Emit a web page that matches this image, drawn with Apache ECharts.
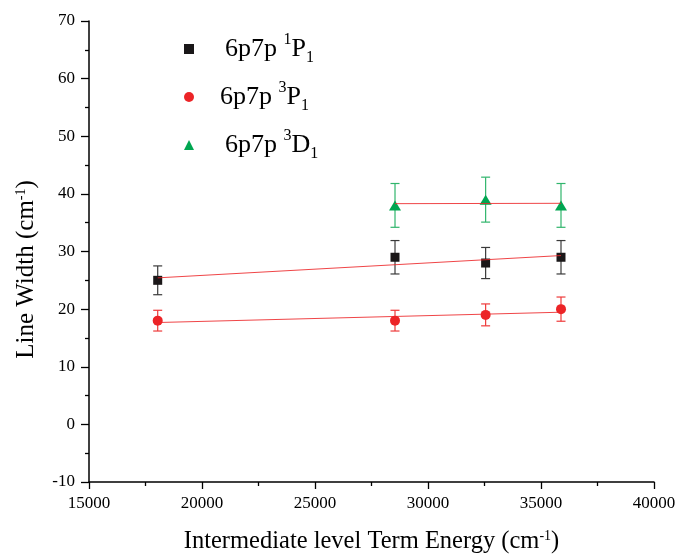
<!DOCTYPE html>
<html>
<head>
<meta charset="utf-8">
<script src="https://cdn.jsdelivr.net/npm/echarts@6/dist/echarts.min.js"></script>
<style>html,body{margin:0;padding:0;background:#fff}#c{width:676px;height:555px}</style>
</head>
<body>
<div id="c"></div>
<script>
// ---- data ----
const energy1P1 = [18040, 28540, 32550, 35885];
const width1P1 = [25, 29, 28, 29];
const err1P1 = [2.5, 2.9, 2.7, 2.9];

const energy3P1 = [18040, 28540, 32550, 35885];
const width3P1 = [18, 18, 19, 20];
const err3P1 = [1.8, 1.8, 1.9, 2.1];

const energy3D1 = [28540, 32550, 35885];
const width3D1 = [38, 39, 38];
const err3D1 = [3.8, 3.9, 3.8];

const xTicks = [15000, 20000, 25000, 30000, 35000, 40000];
const yTicks = [-10, 0, 10, 20, 30, 40, 50, 60, 70];

const seriesNames = ['6p7p 1P1', '6p7p 3P1', '6p7p 3D1'];

// ---- helpers ----
function pairs(xs, ys) { return xs.map((x, i) => [x, ys[i]]); }
function errData(xs, ys, es) { return xs.map((x, i) => [x, ys[i] - es[i], ys[i] + es[i]]); }
function linFit(xs, ys) {
  const n = xs.length;
  const mx = xs.reduce((a, b) => a + b, 0) / n;
  const my = ys.reduce((a, b) => a + b, 0) / n;
  let sxy = 0, sxx = 0;
  for (let i = 0; i < n; i++) { sxy += (xs[i] - mx) * (ys[i] - my); sxx += (xs[i] - mx) * (xs[i] - mx); }
  const b = sxy / sxx, a = my - b * mx;
  const x0 = Math.min(...xs), x1 = Math.max(...xs);
  return [[x0, a + b * x0], [x1, a + b * x1]];
}

const FONT = '"Liberation Serif", "DejaVu Serif", serif';
const C_BLACK = '#1a1718', C_RED = '#ec2427', C_GREEN = '#00a651';

function errSeries(name, data, color) {
  return {
    type: 'custom', name: name + ' err', data: data, z: 3, silent: true,
    encode: { x: 0, y: [1, 2] },
    renderItem: function (params, api) {
      const x = api.value(0);
      const lo = api.coord([x, api.value(1)]);
      const hi = api.coord([x, api.value(2)]);
      const w = 4.5;
      const st = { stroke: color, lineWidth: 1.2 };
      return {
        type: 'group',
        children: [
          { type: 'line', shape: { x1: lo[0], y1: lo[1], x2: hi[0], y2: hi[1] }, style: st },
          { type: 'line', shape: { x1: lo[0] - w, y1: lo[1], x2: lo[0] + w, y2: lo[1] }, style: st },
          { type: 'line', shape: { x1: hi[0] - w, y1: hi[1], x2: hi[0] + w, y2: hi[1] }, style: st }
        ]
      };
    }
  };
}
function fitSeries(name, xs, ys) {
  return {
    type: 'line', name: name + ' fit', data: linFit(xs, ys), showSymbol: false, silent: true,
    lineStyle: { color: C_RED, width: 1, opacity: 0.85 }, z: 5
  };
}

const richText = {
  main: { fontFamily: FONT, fontSize: 26, color: '#000', lineHeight: 34 },
  sup: { fontFamily: FONT, fontSize: 16, color: '#000', lineHeight: 16, verticalAlign: 'top' },
  sub: { fontFamily: FONT, fontSize: 16, color: '#000', lineHeight: 16, verticalAlign: 'bottom' }
};
function legendLabel(name) {
  const parts = name.split(' ');
  const t = parts[1];
  return '{main|' + parts[0] + ' }{sup|' + t[0] + '}{main|' + t[1] + '}{sub|' + t[2] + '}';
}

const chart = echarts.init(document.getElementById('c'), null, { renderer: 'canvas' });
chart.setOption({
  backgroundColor: '#fff',
  animation: false,
  grid: { left: 89, right: 22, top: 21, bottom: 73, containLabel: false, outerBoundsMode: 'none' },
  legend: {
    orient: 'vertical', left: 184, top: 32, padding: 0, itemWidth: 10, itemHeight: 10, itemGap: 14,
    formatter: legendLabel,
    textStyle: { rich: richText, padding: [0, 0, 0, 26] },
    data: [
      { name: seriesNames[0], icon: 'rect', textStyle: { padding: [0, 0, 0, 26] } },
      { name: seriesNames[1], icon: 'circle', textStyle: { padding: [0, 0, 0, 21] } },
      { name: seriesNames[2], icon: 'triangle', textStyle: { padding: [0, 0, 0, 26] } }
    ]
  },
  xAxis: {
    type: 'value', min: xTicks[0], max: xTicks[xTicks.length - 1], interval: 5000,
    name: 'Intermediate level Term Energy (cm{sup|-1})', nameLocation: 'middle', nameGap: 47,
    nameTextStyle: { fontFamily: FONT, fontSize: 24.5, color: '#000',
      rich: { sup: { fontFamily: FONT, fontSize: 14, color: '#000', verticalAlign: 'top', lineHeight: 14 } } },
    axisLine: { show: true, onZero: false, lineStyle: { color: '#000', width: 1.5 } },
    axisTick: { show: true, inside: false, length: 7, lineStyle: { color: '#000', width: 1.3 } },
    minorTick: { show: true, splitNumber: 2, length: 4, lineStyle: { color: '#000', width: 1.3 } },
    axisLabel: { fontFamily: FONT, fontSize: 17, color: '#000', margin: 13, formatter: v => String(v) },
    splitLine: { show: false }
  },
  yAxis: {
    type: 'value', min: yTicks[0], max: yTicks[yTicks.length - 1], interval: 10,
    name: 'Line Width (cm{sup|-1})', nameLocation: 'middle', nameGap: 50,
    nameTextStyle: { fontFamily: FONT, fontSize: 25, color: '#000', padding: [0, 36, 0, 0],
      rich: { sup: { fontFamily: FONT, fontSize: 14, color: '#000', verticalAlign: 'top', lineHeight: 14 } } },
    axisLine: { show: true, onZero: false, lineStyle: { color: '#000', width: 1.5 } },
    axisTick: { show: true, inside: false, length: 8, lineStyle: { color: '#000', width: 1.3 } },
    minorTick: { show: true, splitNumber: 2, length: 4, lineStyle: { color: '#000', width: 1.3 } },
    axisLabel: { fontFamily: FONT, fontSize: 17, color: '#000', margin: 14, formatter: v => String(v) },
    splitLine: { show: false }
  },
  series: [
    errSeries(seriesNames[0], errData(energy1P1, width1P1, err1P1), '#3a3a3a'),
    errSeries(seriesNames[1], errData(energy3P1, width3P1, err3P1), '#ee3a3a'),
    errSeries(seriesNames[2], errData(energy3D1, width3D1, err3D1), '#30b56c'),
    { type: 'scatter', name: seriesNames[0], data: pairs(energy1P1, width1P1), symbol: 'rect', symbolSize: 9,
      itemStyle: { color: C_BLACK, opacity: 1 }, z: 4 },
    { type: 'scatter', name: seriesNames[1], data: pairs(energy3P1, width3P1), symbol: 'circle', symbolSize: 10,
      itemStyle: { color: C_RED, opacity: 1 }, z: 4 },
    { type: 'scatter', name: seriesNames[2], data: pairs(energy3D1, width3D1), symbol: 'triangle', symbolSize: [12, 10],
      itemStyle: { color: C_GREEN, opacity: 1 }, z: 4 },
    fitSeries(seriesNames[0], energy1P1, width1P1),
    fitSeries(seriesNames[1], energy3P1, width3P1),
    fitSeries(seriesNames[2], energy3D1, width3D1)
  ]
});
</script>
</body>
</html>
